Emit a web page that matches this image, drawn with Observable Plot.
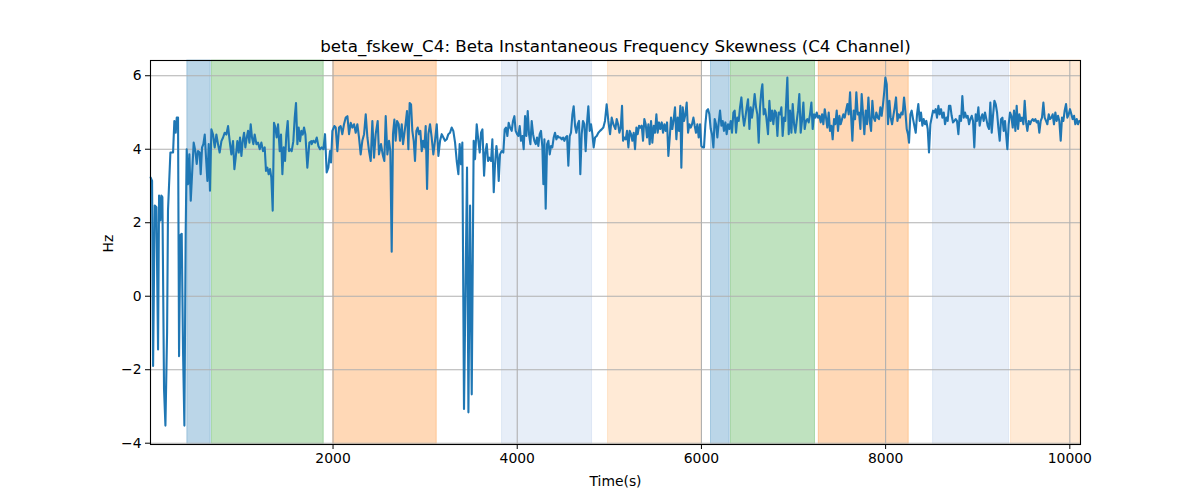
<!DOCTYPE html>
<html>
<head>
<meta charset="utf-8">
<script src="https://cdn.jsdelivr.net/npm/d3@7"></script>
<script src="https://cdn.jsdelivr.net/npm/@observablehq/plot@0.6"></script>
<style>
  html, body { margin: 0; padding: 0; background: #fff; }
  #chart { width: 1200px; height: 500px; }
</style>
</head>
<body>
<div id="chart"></div>
<script>
const titleText = "beta_fskew_C4: Beta Instantaneous Frequency Skewness (C4 Channel)";
const xLabel = "Time(s)";
const yLabel = "Hz";
const xTicks = [2000, 4000, 6000, 8000, 10000];
const yTicks = [-4, -2, 0, 2, 4, 6];

const spanStart = [418, 686, 2003, 3835, 4986, 6104, 6321, 7274, 8515, 9362];
const spanEnd   = [672, 1899, 3126, 4812, 6006, 6307, 7233, 8251, 9340, 10116];
const spanColor = ["#1f77b4", "#2ca02c", "#ff7f0e", "#aec7e8", "#ffbb78", "#1f77b4", "#2ca02c", "#ff7f0e", "#aec7e8", "#ffbb78"];

const times = [
20,35,46,64,82,100,111,125,136,147,165,180,198,208,234,263,277,292,303,317,328,342,357,371,386,400,411,426,440,455,473,487,505,520,534,552,563,578,592,607,621,636,650,664,679,697,715,733,751,769,788,806,824,842,860,878,896,914,929,943,961,976,990,1005,1019,1034,1048,1063,1077,1092,1106,1120,1135,1149,1168,1186,1204,1222,1240,1258,1272,1287,1301,1316,1330,1345,1359,1374,1388,1403,1421,1435,1450,1464,1479,1493,1508,1522,1537,1551,1569,1584,1598,1613,1627,1642,1656,1671,1685,1700,1721,1743,1765,
1768,1786,1805,1823,1841,1859,1877,1895,1913,1931,1949,1967,1978,1993,2014,2029,2047,2065,2083,2101,2119,2138,2156,2174,2192,2210,2228,2246,2264,2282,2300,2318,2337,2355,2373,2391,2409,2427,2445,2463,2485,2499,2521,2539,2557,2572,2590,2608,2622,2637,2651,2666,2680,2695,2713,2727,2746,2760,2774,2789,2803,2818,2832,2847,2861,2876,2890,2905,2919,2934,2948,2963,2977,2992,3006,3021,3035,3053,3071,3089,3107,3126,3144,3162,3180,3198,3216,3234,3252,3270,3288,3306,3325,
3343,3361,3375,3390,3404,3422,3455,3470,3488,3506,3527,3542,3560,3578,3593,3607,3622,3640,3654,3669,3683,3697,3716,3730,3745,3759,3774,3788,3799,3813,3831,3849,3864,3878,3893,3907,3922,3940,3954,3969,3983,3998,4012,4027,4041,4056,4070,4085,4099,4114,4128,4143,4157,4172,4186,4201,4215,4229,4244,4258,4273,4284,4295,4309,4324,4338,4353,4367,4381,4396,4410,4425,4439,4454,4468,4483,4497,4512,4526,4541,4555,4570,4584,4599,4613,4628,4642,4657,4671,4685,4700,4714,4729,4743,4758,4772,4787,4801,4816,4830,4845,4863,4881,4899,4917,4935,4953,4971,4989,5008,5026,5044,
5066,5080,5095,5109,5124,5138,5149,5163,5178,5192,5207,5221,5236,5250,5265,5279,5294,5308,5323,5337,5352,5366,5380,5395,5409,5424,5438,5453,5467,5482,5496,5511,5525,5540,5554,5569,5583,5598,5612,5627,5641,5656,5670,5684,5699,5713,5728,5742,5757,5771,5782,5797,5811,5826,5840,5855,5869,5884,5898,5913,5927,5941,5956,5970,5985,5999,6014,6028,6043,6057,6072,6086,6101,6115,6130,6144,6159,6173,6188,6202,6217,6231,6245,6260,6274,6289,6303,6318,6332,6347,6361,6376,6390,6405,6419,6434,6448,6463,6477,6492,6506,6521,6535,6549,6564,6578,6593,6607,6622,6636,6651,6662,6676,6691,6705,
6723,6738,6752,6767,6781,6796,6810,6825,6839,6854,6868,6882,6897,6911,6926,6933,6948,6962,6977,6991,7006,7020,7035,7049,7063,7078,7092,7107,7121,7136,7150,7165,7179,7194,7208,7223,7237,7252,7266,7281,7295,7310,7324,7339,7353,7367,7382,7396,7411,7425,7440,7454,7469,7483,7498,7512,7527,7541,7556,7570,7585,7599,7614,7628,7639,7653,7668,7682,7697,7711,7726,7740,7755,7769,7784,7798,7813,7827,7842,7856,7870,7885,7899,7914,7928,7943,7957,7972,7986,7997,8012,8026,8041,8055,8070,8084,8099,8113,8128,8142,8156,8171,8185,8200,8214,8229,8243,8254,8269,8283,8298,8312,8327,8341,8355,8370,8384,8399,
8413,8428,8442,8457,8471,8486,8500,8515,8529,8544,8558,8573,8587,8602,8616,8631,8645,8660,8674,8688,8703,8717,8732,8746,8761,8775,8790,8804,8819,8833,8848,8862,8877,8891,8906,8920,8935,8949,8963,8978,8992,9007,9021,9036,9050,9065,9079,9094,9108,9123,9137,9152,9166,9181,9195,9210,9224,9239,9253,9268,9282,9296,9311,9322,9336,9351,9365,9380,9394,9409,9423,9438,9452,9467,9481,9496,9510,9525,9539,9554,9568,9582,9597,9611,9626,9640,9655,9669,9684,9698,9713,9727,9742,9756,9771,9785,9800,9814,9828,9843,9857,9872,9886,9901,9915,9930,9944,9959,9973,9988,10002,10017,10031,10046,10060,10075,10089,10104
];

const values = [
3.23,3.14,-1.9,2.47,2.42,-1.45,2.74,2.06,2.74,2.7,-2.53,-3.52,-1.0,2.33,3.91,3.91,4.77,4.45,4.86,4.86,-1.63,1.66,1.7,-1.45,-3.52,1.7,4.0,3.05,3.86,2.6,3.5,4.18,3.95,3.6,3.95,3.91,3.32,4.05,4.14,4.4,3.77,3.14,4.14,2.87,4.54,4.4,4.05,4.4,4.14,3.91,4.22,4.32,4.45,4.4,4.63,4.22,3.86,4.22,3.46,3.77,4.22,3.91,4.32,3.82,4.22,4.45,4.05,4.32,4.5,4.18,4.68,4.32,4.14,4.4,4.14,4.18,4.0,4.18,3.95,4.05,3.41,3.5,3.32,3.46,3.23,2.33,4.72,4.59,4.32,4.68,3.95,4.4,3.32,4.05,3.68,4.4,4.77,3.95,4.0,3.95,4.22,4.86,5.26,4.14,4.59,4.22,4.5,4.4,4.59,4.4,3.5,4.18,4.22,
4.14,4.23,4.18,4.32,4.09,4.0,4.05,4.0,4.41,3.37,3.5,3.95,3.64,4.5,4.63,4.59,3.95,4.59,4.63,4.41,4.68,4.86,4.9,4.41,4.72,4.59,4.68,4.45,4.68,4.32,3.86,4.23,4.41,4.95,4.32,3.95,3.68,4.77,3.77,4.41,4.77,3.86,4.14,3.86,3.68,4.9,3.86,4.23,3.95,1.21,4.41,4.81,4.23,4.77,4.68,4.23,4.68,4.14,4.41,4.72,5.04,4.0,5.26,5.22,4.5,4.23,3.68,4.5,4.59,4.41,4.5,3.95,4.23,4.05,4.63,2.92,4.41,4.68,4.32,3.86,4.23,4.68,3.82,4.23,4.41,4.32,4.23,4.27,4.41,4.45,4.59,4.5,4.18,
3.68,3.32,4.14,3.59,4.18,-3.07,3.5,-3.16,2.47,-2.67,4.23,3.73,4.68,4.23,3.91,4.45,4.54,3.28,3.91,4.14,3.68,3.77,3.68,4.27,2.83,3.59,4.09,3.77,3.14,3.86,3.95,3.91,4.54,4.59,4.36,4.72,4.59,4.5,4.77,4.9,4.5,4.41,4.36,4.63,4.23,4.36,4.0,4.9,4.36,5.04,4.41,4.14,4.77,4.41,4.23,4.14,4.32,4.09,4.41,4.5,4.05,3.05,4.27,2.38,4.14,4.23,3.86,4.09,4.05,4.32,4.45,4.27,4.36,4.32,4.32,4.27,4.32,4.23,4.32,4.36,3.55,4.36,4.45,4.95,5.17,4.63,4.45,4.68,4.77,3.32,4.41,4.77,4.68,3.95,4.72,5.17,4.5,4.68,4.41,4.05,4.32,4.36,4.45,4.5,4.54,4.59,4.77,5.22,4.77,4.41,4.86,4.68,
4.55,4.82,4.68,4.45,4.59,5.18,4.23,4.32,4.27,4.5,4.05,4.5,4.41,4.23,4.45,4.0,4.59,4.41,4.64,4.59,4.64,4.23,4.82,4.68,4.32,4.68,4.14,4.77,4.18,4.64,4.45,4.95,4.45,4.73,4.55,4.73,4.45,4.68,4.5,4.73,3.82,4.32,4.86,4.55,4.82,5.14,4.27,4.86,4.5,5.18,3.5,5.14,4.77,4.95,5.27,4.45,4.68,4.59,4.68,4.86,4.64,4.45,4.68,4.32,4.68,4.09,4.05,4.05,4.68,5.05,5.09,4.95,4.55,4.41,4.05,4.82,4.68,4.32,4.73,5.05,4.64,4.77,4.5,4.73,4.41,4.68,4.55,4.77,4.45,5.0,5.05,4.45,4.86,4.77,5.14,5.41,4.95,4.64,4.86,5.14,5.36,4.55,5.14,4.86,5.14,5.5,5.14,4.95,4.18,5.14,5.59,5.77,4.95,5.09,4.86,
4.41,5.32,4.77,5.05,4.68,5.05,5.0,4.36,5.0,4.95,5.14,4.36,4.86,4.77,5.59,5.95,4.41,5.05,4.45,5.23,4.68,4.45,4.77,5.05,5.5,4.45,4.77,5.27,4.55,4.77,4.82,4.73,4.95,5.27,4.55,4.95,4.86,5.0,4.86,4.91,4.73,4.95,4.68,5.09,4.86,4.59,5.0,4.5,4.64,4.27,4.82,4.68,5.05,4.5,4.91,4.68,4.82,4.95,4.86,5.05,5.23,4.95,5.55,4.77,4.23,5.05,4.82,5.55,4.95,5.0,4.55,5.5,4.95,4.41,5.05,4.68,5.41,4.77,4.5,5.32,4.86,4.77,5.0,4.86,4.82,5.14,4.91,5.23,5.59,5.95,5.77,4.68,5.32,4.86,4.68,4.91,5.14,5.41,4.77,4.95,4.86,5.0,4.95,5.41,5.05,4.55,4.41,4.18,4.95,5.05,4.82,4.64,4.45,4.95,5.23,4.77,5.0,4.64,
4.82,4.68,4.77,4.55,3.91,4.68,4.86,5.05,5.0,5.09,4.86,5.18,4.95,5.09,4.86,5.0,4.68,4.86,4.77,5.18,5.18,4.91,4.73,4.77,4.82,4.77,4.41,4.91,4.77,5.45,4.86,5.0,4.86,4.91,4.68,4.82,4.91,4.77,4.05,4.95,4.77,5.14,4.64,4.86,4.95,4.77,5.0,4.82,4.64,4.55,5.27,4.45,4.91,5.32,5.23,5.0,4.59,4.23,4.82,4.86,4.5,4.77,4.32,4.0,4.68,5.0,4.91,4.59,5.05,4.5,5.18,4.55,4.95,4.77,4.86,4.68,5.32,4.73,4.5,4.77,4.68,4.77,4.82,4.77,4.82,4.73,4.77,4.45,4.77,4.86,5.27,4.86,4.77,4.68,4.95,4.82,4.86,4.95,4.68,5.0,4.77,4.91,4.77,4.23,4.86,4.77,5.05,5.23,4.86,4.95,5.09,4.95,4.82,4.91,4.68,4.82,4.68,4.77
];

const series = times.map((t, i) => ({t, v: values[i]}));
const spans = spanStart.map((s, i) => ({x1: s, x2: spanEnd[i], c: spanColor[i]}));

const font = "'DejaVu Sans', sans-serif";

const chart = Plot.plot({
  width: 1200,
  height: 500,
  marginLeft: 150,
  marginRight: 120,
  marginTop: 60,
  marginBottom: 56,
  style: {fontFamily: font, fontSize: "13.9px", color: "black", background: "white"},
  x: {domain: [18, 10116], ticks: xTicks, tickFormat: "d", tickSize: 5, tickPadding: 4, label: null},
  y: {domain: [-4.035, 6.415], ticks: yTicks, tickSize: 5, tickPadding: 4, label: null},
  marks: [
    Plot.rect(spans, {x1: "x1", x2: "x2", fill: "c", fillOpacity: 0.3, stroke: "c", strokeOpacity: 0.3, strokeWidth: 1}),
    Plot.gridX(xTicks, {stroke: "#b0b0b0", strokeOpacity: 1, strokeWidth: 1.1}),
    Plot.gridY(yTicks, {stroke: "#b0b0b0", strokeOpacity: 1, strokeWidth: 1.1}),
    Plot.line(series, {x: "t", y: "v", stroke: "#1f77b4", strokeWidth: 2.1}),
    Plot.frame({stroke: "black", strokeWidth: 1.1}),
    Plot.axisX({ticks: xTicks, tickFormat: "d", tickSize: 5, tickPadding: 4, label: null}),
    Plot.axisY({ticks: yTicks, tickSize: 5, tickPadding: 4, label: null}),
    Plot.text([titleText], {frameAnchor: "top", dy: -14, lineAnchor: "middle", fontSize: 16.7, fill: "black"}),
    Plot.text([xLabel], {frameAnchor: "bottom", dy: 37, lineAnchor: "middle", fontSize: 13.9, fill: "black"}),
    Plot.text([yLabel], {frameAnchor: "left", dx: -42, lineAnchor: "middle", rotate: -90, fontSize: 13.9, fill: "black"})
  ]
});
document.getElementById("chart").appendChild(chart);
</script>
</body>
</html>
